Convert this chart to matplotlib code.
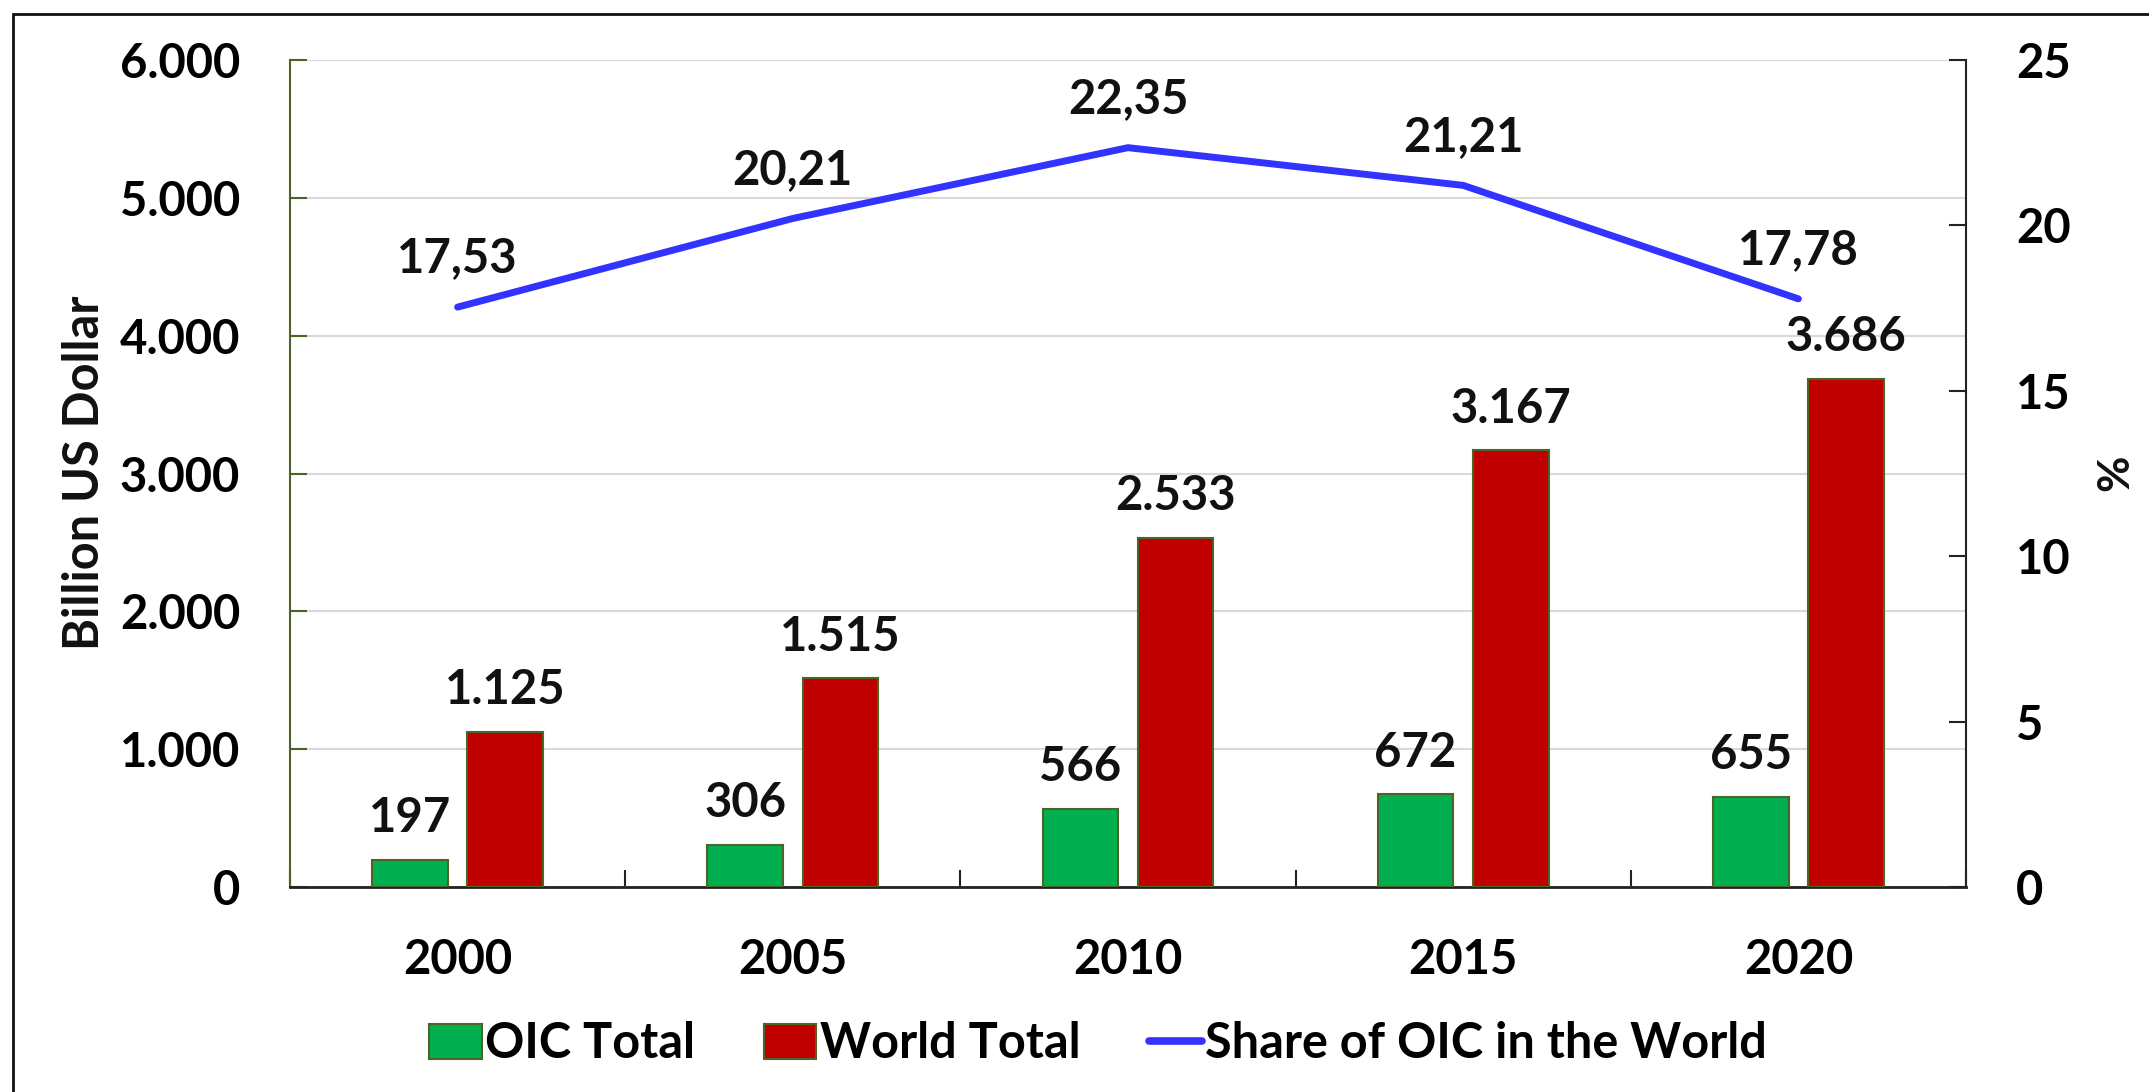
import matplotlib
matplotlib.use("Agg")
import matplotlib.pyplot as plt
from matplotlib.patches import Patch, Rectangle
from matplotlib.lines import Line2D
from matplotlib.ticker import FixedLocator, FuncFormatter

plt.rcParams['font.family'] = ['Lato', 'DejaVu Sans']
plt.rcParams['font.weight'] = 'bold'

years = ['2000', '2005', '2010', '2015', '2020']
oic_total = [197, 306, 566, 672, 655]
world_total = [1125, 1515, 2533, 3167, 3686]
oic_share = [17.53, 20.21, 22.35, 21.21, 17.78]

GREEN = '#00B050'
RED = '#C00000'
BLUE = '#3333FF'
EDGE = '#4F6228'
FS = 34


def dotted(v):
    return f"{v:,.0f}".replace(',', '.')


def comma(v):
    return f"{v:.2f}".replace('.', ',')


W, H = 2149, 1092
fig = plt.figure(figsize=(W / 100, H / 100), dpi=100)
ax = fig.add_axes([290 / W, 1 - 887 / H, (1966 - 290) / W, (887 - 60) / H])
ax2 = ax.twinx()

x = list(range(len(years)))
width = 0.226
off = 0.142
xg = [i - off for i in x]
xr = [i + off for i in x]

ax.bar(xg, oic_total, width, color=GREEN, edgecolor=EDGE, linewidth=1.5, zorder=3)
ax.bar(xr, world_total, width, color=RED, edgecolor=EDGE, linewidth=1.5, zorder=3)

for xi, v in zip(xg, oic_total):
    ax.annotate(str(v), (xi, v), xytext=(0, 30), textcoords='offset points',
                ha='center', va='center', fontsize=FS, fontweight='bold', color='#111111')
for xi, v in zip(xr, world_total):
    ax.annotate(dotted(v), (xi, v), xytext=(0, 30), textcoords='offset points',
                ha='center', va='center', fontsize=FS, fontweight='bold', color='#111111')

ax2.plot(x, oic_share, color=BLUE, linewidth=5, solid_capstyle='round', zorder=4)
for xi, v in zip(x, oic_share):
    ax2.annotate(comma(v), (xi, v), xytext=(0, 35), textcoords='offset points',
                 ha='center', va='center', fontsize=FS, fontweight='bold', color='#111111')

ax.set_xlim(-0.5, len(years) - 0.5)
ax.set_ylim(0, 6000)
ax2.set_ylim(0, 25)

ax.set_yticks(range(0, 6001, 1000))
ax.yaxis.set_major_formatter(FuncFormatter(lambda v, p: dotted(v)))
ax2.set_yticks(range(0, 26, 5))

ax.set_xticks(x)
ax.set_xticklabels(years)
ax.xaxis.set_minor_locator(FixedLocator([i - 0.5 for i in range(len(years) + 1)]))
ax.tick_params(axis='x', which='major', length=0, pad=37, labelsize=FS)
ax.tick_params(axis='x', which='minor', direction='in', length=12, width=1.5, color='#222222')
ax.tick_params(axis='y', direction='in', length=12, width=1.5, color=EDGE, pad=36, labelsize=FS)
ax2.tick_params(axis='y', direction='in', length=12, width=1.5, color='#222222', pad=36, labelsize=FS)

ax.grid(axis='y', color='#D9D9D9', linewidth=1.5, zorder=0)
ax.set_axisbelow(True)

for a in (ax, ax2):
    a.spines['top'].set_visible(False)
ax.spines['left'].set_color(EDGE)
ax.spines['left'].set_linewidth(1.5)
ax.spines['right'].set_visible(False)
ax2.spines['left'].set_visible(False)
ax2.spines['right'].set_color('#222222')
ax2.spines['right'].set_linewidth(1.5)
ax2.spines['bottom'].set_visible(False)
ax.spines['bottom'].set_color('#222222')
ax.spines['bottom'].set_linewidth(2)

fig.text(85 / W, 1 - 473 / H, 'Billion US Dollar', rotation=90, ha='center', va='center',
         fontsize=35, fontweight='bold', color='#111111')
fig.text(2115 / W, 1 - 473 / H, '%', rotation=90, ha='center', va='center',
         fontsize=32, fontweight='bold', color='#111111')

handles = [
    Patch(facecolor=GREEN, edgecolor=EDGE, linewidth=1.5),
    Patch(facecolor=RED, edgecolor=EDGE, linewidth=1.5),
    Line2D([0], [0], color=BLUE, linewidth=5.5, solid_capstyle='round'),
]
labels = ['OIC Total', 'World Total', 'Share of OIC in the World']
fig.legend(handles, labels, loc='center', bbox_to_anchor=(0.511, 1 - 1044 / H), ncol=3,
           frameon=False, prop={'size': 35, 'weight': 'bold'}, handlelength=1.08,
           handleheight=0.7, handletextpad=0.07, columnspacing=1.42)

fig.patches.append(Rectangle((13 / W, -0.05), 1.2, 1.05 - 14 / H, transform=fig.transFigure,
                             fill=False, edgecolor='#111111', linewidth=2))

fig.savefig('out.png', dpi=100)
